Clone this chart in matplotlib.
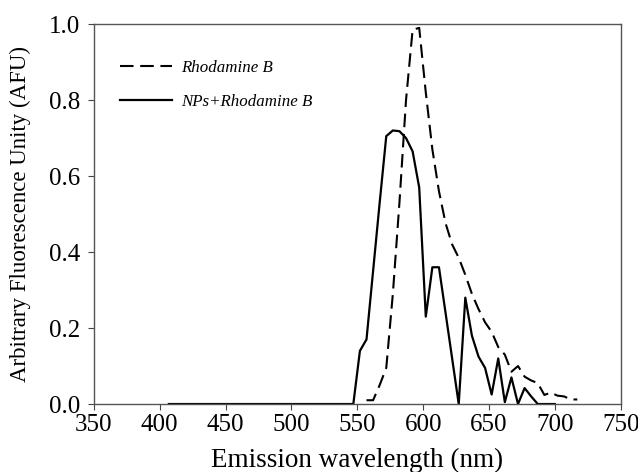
import matplotlib

matplotlib.use("Agg")

import matplotlib.pyplot as plt
import numpy as np

# emission spectra (5 nm steps)
wl_np = [407, 547, 552, 557, 562, 567, 572, 577, 582, 587, 592, 597, 602, 607, 612,
         617, 622, 627, 632, 637, 642, 647, 652, 657, 662, 667, 672, 677, 682, 687, 700]
np_rhb = [0.0, 0.0, 0.14, 0.17, 0.35, 0.53, 0.705, 0.72, 0.718, 0.70, 0.665, 0.57, 0.23, 0.36, 0.36,
          0.24, 0.12, 0.0, 0.28, 0.18, 0.125, 0.095, 0.025, 0.12, 0.005, 0.07, 0.0, 0.042, 0.02, 0.0, 0.0]

wl_rhb = [557, 562, 567, 572, 577, 582, 587, 592, 597, 602, 607, 612, 617, 622, 627, 632, 637, 642,
          647, 652, 657, 662, 667, 672, 677, 682, 687, 692, 697, 702, 707, 712, 717]
rhb = [0.01, 0.01, 0.05, 0.095, 0.29, 0.53, 0.80, 0.985, 0.99, 0.82, 0.67, 0.56, 0.476, 0.42, 0.385,
       0.34, 0.29, 0.25, 0.215, 0.19, 0.15, 0.13, 0.085, 0.10, 0.072, 0.062, 0.055, 0.024, 0.03,
       0.022, 0.02, 0.012, 0.012]

x_ticks = np.arange(350, 751, 50)
y_ticks = np.arange(0, 1.01, 0.2)

plt.rcParams["font.family"] = ["Liberation Serif", "DejaVu Serif"]

fig = plt.figure(figsize=(6.38, 4.72), dpi=100)
ax = fig.add_axes([0.147, 0.144, 0.826, 0.805])

ax.plot(wl_rhb, rhb, color="black", lw=1.5, dashes=(6.5, 3.2), label="Rhodamine B")
ax.plot(wl_np, np_rhb, color="black", lw=1.6, label="NPs+Rhodamine B")

ax.set_xlim(350, 750)
ax.set_ylim(0, 1.0)
ax.set_xticks(x_ticks)
ax.set_yticks(y_ticks)
ax.set_yticklabels([f"{v:.1f}" for v in y_ticks])
ax.tick_params(direction="out", length=4, width=0.8, color="#444444", labelsize=18)
ax.tick_params(axis="y", pad=6)
ax.tick_params(axis="x", pad=3)
for side in ["left", "right", "top", "bottom"]:
    ax.spines[side].set_color("#555555")
    ax.spines[side].set_linewidth(1.0)

ax.set_xlabel("Emission wavelength (nm)", fontsize=19.5)
ax.xaxis.set_label_coords(0.5, -0.115)
ax.set_ylabel("Arbitrary Fluorescence Unity (AFU)", fontsize=16.5)
ax.yaxis.set_label_coords(-0.12, 0.5)

ax.legend(loc="upper left", bbox_to_anchor=(0.02, 0.946), frameon=False,
          prop={"style": "italic", "size": 12.2}, handlelength=3.1, handletextpad=0.55,
          labelspacing=1.08)

fig.savefig("out.png", dpi=100)
